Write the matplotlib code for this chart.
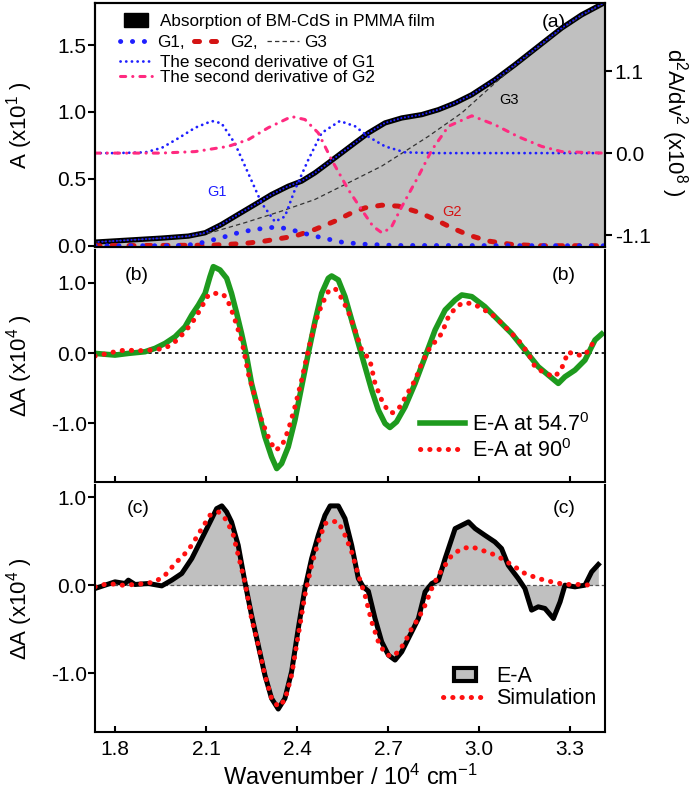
import matplotlib
matplotlib.use('Agg')
from matplotlib import pyplot as plt
from matplotlib.patches import Patch, Rectangle
from matplotlib.lines import Line2D
from matplotlib.legend_handler import HandlerPatch

plt.rcParams['font.family'] = ['Liberation Sans', 'DejaVu Sans']
plt.rcParams['mathtext.fontset'] = 'custom'
plt.rcParams['mathtext.rm'] = 'Liberation Sans'
plt.rcParams['mathtext.it'] = 'Liberation Sans:italic'
plt.rcParams['axes.unicode_minus'] = False
plt.rcParams['axes.linewidth'] = 1.5

# ---------------- data, panel (a) ----------------
abs_x = [1.734, 1.844, 1.954, 2.042, 2.097, 2.151, 2.206, 2.261, 2.316, 2.371, 2.415, 2.459,
         2.503, 2.547, 2.591, 2.635, 2.690, 2.745, 2.811, 2.866, 2.921, 2.976, 3.052, 3.118,
         3.195, 3.272, 3.338, 3.41]
abs_y = [0.027, 0.042, 0.057, 0.072, 0.097, 0.159, 0.234, 0.308, 0.383, 0.445, 0.483, 0.545,
         0.619, 0.694, 0.769, 0.843, 0.918, 0.955, 0.980, 1.017, 1.067, 1.129, 1.241, 1.353,
         1.490, 1.627, 1.726, 1.813]

g1_x = [1.734, 2.00, 2.064, 2.151, 2.206, 2.261, 2.327, 2.371, 2.415, 2.481, 2.547, 2.613,
        2.723, 3.41]
g1_y = [0, 0, 0.01, 0.060, 0.097, 0.122, 0.139, 0.127, 0.097, 0.060, 0.027, 0.012, 0.002, 0]

g2_x = [1.734, 2.12, 2.228, 2.294, 2.393, 2.459, 2.525, 2.58, 2.624, 2.679, 2.734, 2.80,
        2.855, 2.91, 2.965, 3.03, 3.107, 3.195, 3.41]
g2_y = [0, 0.004, 0.017, 0.035, 0.072, 0.122, 0.184, 0.246, 0.283, 0.303, 0.296, 0.251,
        0.196, 0.134, 0.080, 0.035, 0.010, 0, 0]

g3_x = [1.734, 1.954, 2.042, 2.119, 2.228, 2.349, 2.459, 2.569, 2.679, 2.756, 2.833, 2.943,
        3.052, 3.118, 3.195, 3.272, 3.338, 3.41]
g3_y = [0.027, 0.057, 0.07, 0.10, 0.172, 0.259, 0.346, 0.470, 0.595, 0.706, 0.818, 0.993,
        1.215, 1.345, 1.482, 1.62, 1.72, 1.81]

d2g1_x = [1.734, 1.80, 1.90, 1.954, 2.009, 2.064, 2.119, 2.151, 2.195, 2.239, 2.283, 2.327,
          2.36, 2.393, 2.437, 2.481, 2.541, 2.591, 2.635, 2.69, 2.756, 2.85, 3.41]
d2g1_y = [0, 0, 0.01, 0.07, 0.20, 0.34, 0.43, 0.40, 0.13, -0.27, -0.67, -0.92, -0.85, -0.49,
          -0.09, 0.27, 0.43, 0.36, 0.22, 0.09, 0.01, 0, 0]

d2g2_x = [1.734, 1.95, 2.064, 2.173, 2.239, 2.305, 2.382, 2.426, 2.47, 2.514, 2.569, 2.613,
          2.65, 2.68, 2.71, 2.745, 2.80, 2.844, 2.899, 2.976, 3.052, 3.129, 3.206, 3.272, 3.41]
d2g2_y = [0, 0, 0.02, 0.09, 0.18, 0.34, 0.49, 0.45, 0.27, -0.09, -0.49, -0.76, -0.98, -1.07,
          -1.0, -0.72, -0.31, 0.04, 0.36, 0.50, 0.38, 0.22, 0.09, 0.02, 0]

# ---------------- data, panel (b) ----------------
b547_x = [1.734, 1.800, 1.844, 1.899, 1.932, 1.965, 1.998, 2.031, 2.053, 2.075, 2.097, 2.113,
          2.124, 2.146, 2.168, 2.184, 2.201, 2.217, 2.234, 2.250, 2.272, 2.294, 2.316, 2.333,
          2.349, 2.371, 2.393, 2.415, 2.437, 2.459, 2.481, 2.503, 2.514, 2.536, 2.558, 2.580,
          2.602, 2.624, 2.646, 2.668, 2.690, 2.706, 2.728, 2.756, 2.789, 2.822, 2.855, 2.888,
          2.921, 2.943, 2.976, 3.019, 3.063, 3.107, 3.151, 3.195, 3.228, 3.261, 3.283, 3.316,
          3.349, 3.382, 3.404]
b547_y = [-0.005, -0.029, -0.005, 0.019, 0.067, 0.138, 0.233, 0.376, 0.543, 0.686, 0.852,
          1.090, 1.233, 1.186, 1.067, 0.852, 0.567, 0.281, -0.052, -0.433, -0.814, -1.195,
          -1.481, -1.648, -1.576, -1.338, -0.957, -0.481, -0.005, 0.448, 0.852, 1.067, 1.100,
          1.043, 0.805, 0.471, 0.138, -0.195, -0.529, -0.814, -1.005, -1.062, -0.981, -0.767,
          -0.433, -0.052, 0.329, 0.614, 0.757, 0.829, 0.805, 0.662, 0.471, 0.281, 0.043,
          -0.195, -0.314, -0.433, -0.338, -0.243, -0.100, 0.186, 0.271]

b90_x = [1.734, 1.767, 1.800, 1.833, 1.877, 1.921, 1.965, 1.998, 2.031, 2.064, 2.086, 2.108,
         2.130, 2.157, 2.173, 2.190, 2.206, 2.223, 2.239, 2.261, 2.283, 2.305, 2.327, 2.349,
         2.371, 2.393, 2.415, 2.437, 2.459, 2.481, 2.503, 2.525, 2.547, 2.569, 2.591, 2.613,
         2.640, 2.657, 2.679, 2.701, 2.717, 2.739, 2.767, 2.789, 2.811, 2.833, 2.855, 2.877,
         2.899, 2.921, 2.943, 2.976, 3.009, 3.052, 3.096, 3.129, 3.162, 3.184, 3.217, 3.250,
         3.272, 3.294, 3.316, 3.349, 3.382]
b90_y = [-0.043, -0.014, 0.019, 0.043, 0.033, 0.043, 0.067, 0.162, 0.305, 0.495, 0.662,
         0.829, 0.852, 0.838, 0.733, 0.543, 0.329, 0.067, -0.290, -0.624, -0.957, -1.195,
         -1.386, -1.338, -1.100, -0.767, -0.386, 0.043, 0.424, 0.686, 0.876, 0.924, 0.781,
         0.590, 0.329, 0.043, -0.100, -0.433, -0.671, -0.838, -0.852, -0.767, -0.552, -0.386,
         -0.148, 0.043, 0.162, 0.281, 0.519, 0.638, 0.710, 0.710, 0.638, 0.519, 0.329, 0.186,
         -0.005, -0.195, -0.290, -0.338, -0.219, 0.019, -0.029, -0.029, 0.186]

# ---------------- data, panel (c) ----------------
ea_x = [1.734, 1.767, 1.800, 1.833, 1.844, 1.866, 1.910, 1.954, 1.987, 2.020, 2.053, 2.086,
        2.119, 2.135, 2.152, 2.168, 2.184, 2.206, 2.228, 2.250, 2.272, 2.294, 2.316, 2.338,
        2.360, 2.382, 2.404, 2.426, 2.448, 2.470, 2.492, 2.509, 2.536, 2.558, 2.580, 2.602,
        2.618, 2.635, 2.657, 2.679, 2.701, 2.723, 2.745, 2.767, 2.800, 2.822, 2.844, 2.866,
        2.888, 2.921, 2.943, 2.965, 2.987, 3.019, 3.052, 3.074, 3.096, 3.129, 3.151, 3.173,
        3.195, 3.217, 3.245, 3.267, 3.283, 3.316, 3.349, 3.371, 3.393]
ea_y = [-0.038, 0.0, 0.038, 0.019, 0.057, 0.008, 0.019, -0.008, 0.057, 0.133, 0.303, 0.530,
        0.758, 0.871, 0.902, 0.833, 0.720, 0.455, 0.038, -0.341, -0.682, -1.023, -1.288,
        -1.409, -1.288, -0.985, -0.492, -0.038, 0.303, 0.568, 0.795, 0.902, 0.902, 0.758,
        0.455, 0.076, -0.019, -0.068, -0.379, -0.644, -0.795, -0.852, -0.758, -0.606, -0.379,
        -0.076, 0.019, 0.057, 0.303, 0.644, 0.682, 0.720, 0.644, 0.568, 0.492, 0.417, 0.227,
        0.076, -0.038, -0.284, -0.246, -0.265, -0.379, -0.189, 0.0, -0.019, 0.0, 0.152, 0.235]

sim_x = [1.734, 1.778, 1.822, 1.866, 1.899, 1.932, 1.965, 1.998, 2.031, 2.053, 2.086, 2.113,
         2.141, 2.168, 2.190, 2.206, 2.228, 2.250, 2.272, 2.294, 2.316, 2.338, 2.360, 2.382,
         2.404, 2.426, 2.448, 2.470, 2.492, 2.514, 2.536, 2.558, 2.580, 2.602, 2.624, 2.646,
         2.668, 2.690, 2.712, 2.734, 2.756, 2.778, 2.800, 2.822, 2.844, 2.866, 2.888, 2.910,
         2.943, 2.976, 3.009, 3.041, 3.074, 3.118, 3.151, 3.195, 3.239, 3.283, 3.327, 3.371]
sim_y = [-0.019, 0.019, 0.0, 0.008, 0.019, 0.038, 0.114, 0.246, 0.360, 0.455, 0.644, 0.795,
         0.833, 0.739, 0.568, 0.341, 0.038, -0.379, -0.682, -1.023, -1.288, -1.383, -1.307,
         -1.023, -0.568, -0.114, 0.227, 0.492, 0.701, 0.727, 0.720, 0.568, 0.379, 0.114,
         -0.114, -0.417, -0.644, -0.777, -0.814, -0.758, -0.644, -0.492, -0.379, -0.227,
         -0.038, 0.114, 0.227, 0.341, 0.417, 0.436, 0.398, 0.360, 0.303, 0.208, 0.133, 0.076,
         0.038, 0.008, 0.008, 0.0]

x_ticks = [1.8, 2.1, 2.4, 2.7, 3.0, 3.3]
x_lim = (1.734, 3.415)

blue = '#1f1fff'
pink = '#ff2a80'
darkred = '#d41414'
red = '#ff1010'
green = '#1e9a1e'
silver = '#c0c0c0'
tick_fs = 15
lab_fs = 16


def dots(gap):
    return (0, (0.05, gap))


class SmallBox(HandlerPatch):
    def __init__(self, w, h, **kw):
        self.w = w
        self.h = h
        HandlerPatch.__init__(self, **kw)

    def create_artists(self, legend, orig, xd, yd, width, height, fontsize, trans):
        p = Rectangle((-xd + (width - self.w) / 2, -yd + (height - self.h) / 2), self.w, self.h,
                      facecolor=orig.get_facecolor(), edgecolor=orig.get_edgecolor(),
                      lw=orig.get_linewidth(), transform=trans)
        return [p]


fig = plt.figure(figsize=(7, 7.97), dpi=100)
ax1 = fig.add_axes([0.1357, 0.690, 0.7286, 0.306])
ax2 = fig.add_axes([0.1357, 0.3952, 0.7286, 0.2911])
ax3 = fig.add_axes([0.1357, 0.0816, 0.7286, 0.3099])

# ---------------- panel (a) ----------------
g1_ls = dots(2.4)
g2_ls = (0, (1.0, 2.4))
g3_ls = (0, (3.5, 2.5))
d1_ls = dots(2.0)
d2_ls = (0, (1.7, 2.3, 0.05, 2.3))

ax1.fill_between(abs_x, abs_y, 0, color=silver, lw=0, zorder=1)
ax1.plot(abs_x, abs_y, color='black', lw=3.8, zorder=3, solid_capstyle='round')
ax1.plot(abs_x, abs_y, color=blue, lw=1.5, ls=dots(1.7), dash_capstyle='round', zorder=4)
ax1.plot(g3_x, g3_y, color='#333333', lw=0.9, ls=g3_ls, zorder=3)
ax1.plot(g2_x, g2_y, color=darkred, lw=3.6, ls=g2_ls, dash_capstyle='round', zorder=3)
ax1.plot(g1_x, g1_y, color=blue, lw=3.5, ls=g1_ls, dash_capstyle='round', zorder=3)
ax1.set_xlim(*x_lim)
ax1.set_ylim(-0.01, 1.813)
ax1.set_yticks([0.0, 0.5, 1.0, 1.5])
ax1.set_yticklabels(['%.1f' % v for v in [0.0, 0.5, 1.0, 1.5]])
ax1.tick_params(axis='x', bottom=False, labelbottom=False)
ax1.tick_params(axis='y', direction='out', length=5, width=1.5, labelsize=tick_fs, pad=1)
ax1.set_ylabel('A (x10$^1$ )', fontsize=lab_fs)
ax1.yaxis.set_label_coords(-0.117, 0.5)
ax1.text(2.137, 0.40, 'G1', color=blue, fontsize=10.5, ha='center', va='center')
ax1.text(2.91, 0.25, 'G2', color=darkred, fontsize=10.5, ha='center', va='center')
ax1.text(3.10, 1.09, 'G3', color='black', fontsize=10.5, ha='center', va='center')
ax1.text(3.247, 1.67, '(a)', fontsize=14, ha='center', va='center')

ax1r = ax1.twinx()
ax1r.plot(d2g1_x, d2g1_y, color=blue, lw=2.0, ls=d1_ls, dash_capstyle='round')
ax1r.plot(d2g2_x, d2g2_y, color=pink, lw=2.2, ls=d2_ls, dash_capstyle='round')
ax1r.set_ylim(-1.26, 2.01)
ax1r.set_yticks([-1.1, 0.0, 1.1])
ax1r.set_yticklabels(['-1.1', '0.0', '1.1'])
ax1r.tick_params(axis='y', direction='out', length=5, width=1.5, labelsize=tick_fs, pad=2)
ax1r.set_ylabel('d$^2$A/dv$^2$ (x10$^8$ )', fontsize=lab_fs, rotation=270)
ax1r.yaxis.set_label_coords(1.167, 0.51)

leg_kw = dict(frameon=False, borderpad=0, borderaxespad=0, fontsize=12.3, labelspacing=0.0)
h_abs = Patch(facecolor='black', edgecolor='black', lw=1)
l1 = ax1r.legend([h_abs], ['Absorption of BM-CdS in PMMA film'], loc='center left',
                 bbox_to_anchor=(0.049, 0.926), handlelength=1.85, handletextpad=0.5,
                 handler_map={Patch: SmallBox(17, 10)}, **leg_kw)
ax1r.add_artist(l1)
h_g1 = Line2D([], [], color=blue, lw=3.5, ls=g1_ls, dash_capstyle='round')
h_g2 = Line2D([], [], color=darkred, lw=3.6, ls=g2_ls, dash_capstyle='round')
h_g3 = Line2D([], [], color='#333333', lw=0.9, ls=g3_ls)
l2 = ax1r.legend([h_g1, h_g2, h_g3], ['G1,', 'G2,', 'G3'], loc='center left', ncol=3,
                 bbox_to_anchor=(0.049, 0.840), handlelength=1.85, handletextpad=0.3,
                 columnspacing=0.55, **leg_kw)
ax1r.add_artist(l2)
h_d1 = Line2D([], [], color=blue, lw=2.0, ls=d1_ls, dash_capstyle='round')
h_d2 = Line2D([], [], color=pink, lw=2.2, ls=d2_ls, dash_capstyle='round')
ax1r.legend([h_d1, h_d2], ['The second derivative of G1', 'The second derivative of G2'],
            loc='center left', bbox_to_anchor=(0.049, 0.728), handlelength=1.85,
            handletextpad=0.5, **leg_kw)

# ---------------- panel (b) ----------------
ax2.axhline(0, color='black', lw=1.2, ls=(0, (2, 2)))
ax2.plot(b547_x, b547_y, color=green, lw=4.0, label='E-A at 54.7$^0$',
         solid_joinstyle='round')
ax2.plot(b90_x, b90_y, color=red, lw=3.6, ls=dots(1.8), dash_capstyle='round',
         label='E-A at 90$^0$')
ax2.set_xlim(*x_lim)
ax2.set_ylim(-1.84, 1.47)
ax2.spines['top'].set_visible(False)
ax2.set_xticks(x_ticks)
ax2.tick_params(axis='x', direction='in', length=4, width=1.5, labelbottom=False)
ax2.set_yticks([-1.0, 0.0, 1.0])
ax2.set_yticklabels(['-1.0', '0.0', '1.0'])
ax2.tick_params(axis='y', direction='out', length=5, width=1.5, labelsize=tick_fs, pad=1)
ax2.set_ylabel('$\\Delta$A (x10$^4$ )', fontsize=lab_fs)
ax2.yaxis.set_label_coords(-0.117, 0.5)
ax2.text(1.873, 1.11, '(b)', fontsize=14, ha='center', va='center')
ax2.text(3.28, 1.11, '(b)', fontsize=14, ha='center', va='center')
ax2.legend(loc='center left', bbox_to_anchor=(0.637, 0.192), frameon=False, borderpad=0,
           borderaxespad=0, fontsize=15.5, labelspacing=0.15, handlelength=2.1,
           handletextpad=0.33)

# ---------------- panel (c) ----------------
ax3.fill_between(ea_x, ea_y, 0, color=silver, lw=0)
ax3.axhline(0, color='#555555', lw=0.9, ls=(0, (3, 2)))
ax3.plot(ea_x, ea_y, color='black', lw=3.6, solid_joinstyle='round')
ax3.plot(sim_x, sim_y, color=red, lw=3.6, ls=dots(1.8), dash_capstyle='round')
ax3.set_xlim(*x_lim)
ax3.set_ylim(-1.67, 1.14)
ax3.spines['top'].set_visible(False)
ax3.set_xticks(x_ticks)
ax3.set_xticklabels(['%.1f' % v for v in x_ticks])
ax3.tick_params(axis='x', direction='in', length=4, width=1.5, labelsize=tick_fs, pad=6)
ax3.set_yticks([-1.0, 0.0, 1.0])
ax3.set_yticklabels(['-1.0', '0.0', '1.0'])
ax3.tick_params(axis='y', direction='out', length=5, width=1.5, labelsize=tick_fs, pad=1)
ax3.set_ylabel('$\\Delta$A (x10$^4$ )', fontsize=lab_fs)
ax3.yaxis.set_label_coords(-0.117, 0.5)
ax3.set_xlabel('Wavenumber / 10$^4$ cm$^{-1}$', fontsize=17, labelpad=4)
ax3.text(1.877, 0.875, '(c)', fontsize=14, ha='center', va='center')
ax3.text(3.28, 0.875, '(c)', fontsize=14, ha='center', va='center')
h_ea = Patch(facecolor=silver, edgecolor='black', lw=3)
h_sim = Line2D([], [], color=red, lw=3.6, ls=dots(1.8), dash_capstyle='round')
ax3.legend([h_ea, h_sim], ['E-A', 'Simulation'], loc='center left',
           bbox_to_anchor=(0.682, 0.18), frameon=False, borderpad=0, borderaxespad=0,
           fontsize=15.5, labelspacing=0.05, handlelength=2.05, handletextpad=0.42,
           handler_map={Patch: SmallBox(16, 9)})

fig.savefig('out.png', dpi=100)
